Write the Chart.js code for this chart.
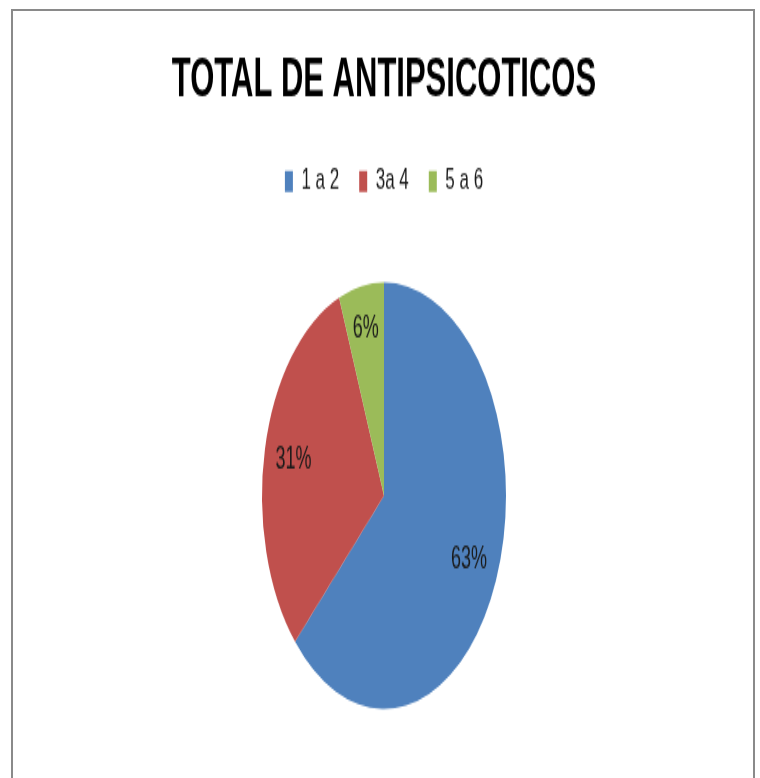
<!DOCTYPE html>
<html>
<head>
<meta charset="utf-8">
<script src="https://cdn.jsdelivr.net/npm/chart.js@4.4.1/dist/chart.umd.min.js"></script>
<style>
  html, body { margin: 0; padding: 0; background: #fff; overflow: hidden; }
  #frame {
    position: absolute; left: 11px; top: 9px; width: 740px; height: 800px;
    border: 2px solid #8a8a8a; border-bottom: none;
  }
  #chart {
    position: absolute; left: 0; top: 0;
    transform-origin: 0 0; transform: scaleY(1.7483);
  }
</style>
</head>
<body>
<div id="frame"></div>
<canvas id="chart" width="760" height="445"></canvas>
<script>
const categories = ["1 a 2", "3a 4", "5 a 6"];
const percentages = [63, 31, 6];
const sliceColors = ["#4F81BD", "#C0504D", "#9BBB59"];

// Percent labels drawn inside each slice, a bit out from the middle
const sliceLabels = {
  id: "sliceLabels",
  afterDatasetsDraw(chart) {
    const ctx = chart.ctx;
    const meta = chart.getDatasetMeta(0);
    ctx.save();
    ctx.font = "18px 'Liberation Sans', Arial, sans-serif";
    ctx.fillStyle = "#1a1a1a";
    ctx.textAlign = "center";
    ctx.textBaseline = "middle";
    meta.data.forEach((arc, i) => {
      const p = arc.getProps(["x", "y", "startAngle", "endAngle", "outerRadius"], true);
      const mid = (p.startAngle + p.endAngle) / 2;
      const r = p.outerRadius * (i === 2 ? 0.8 : 0.76);
      ctx.fillText(percentages[i] + "%", p.x + Math.cos(mid) * r, p.y + Math.sin(mid) * r);
    });
    ctx.restore();
  }
};

new Chart(document.getElementById("chart"), {
  type: "pie",
  data: {
    labels: categories,
    datasets: [
      {
        data: percentages,
        backgroundColor: sliceColors,
        borderWidth: 0,
        radius: 122
      }
    ]
  },
  options: {
    responsive: false,
    animation: false,
    layout: { padding: { top: 0, bottom: -4, left: 8 } },
    plugins: {
      title: {
        display: true,
        text: "TOTAL DE ANTIPSICOTICOS",
        color: "#000",
        font: { family: "'Liberation Sans', Arial, sans-serif", size: 31, weight: "bold" },
        padding: { top: 28, bottom: 10 }
      },
      legend: {
        display: true,
        position: "top",
        labels: {
          color: "#1a1a1a",
          font: { family: "'Liberation Sans', Arial, sans-serif", size: 17 },
          boxWidth: 8,
          boxHeight: 12,
          padding: 20
        }
      },
      tooltip: { enabled: false }
    }
  },
  plugins: [sliceLabels]
});
</script>
</body>
</html>
